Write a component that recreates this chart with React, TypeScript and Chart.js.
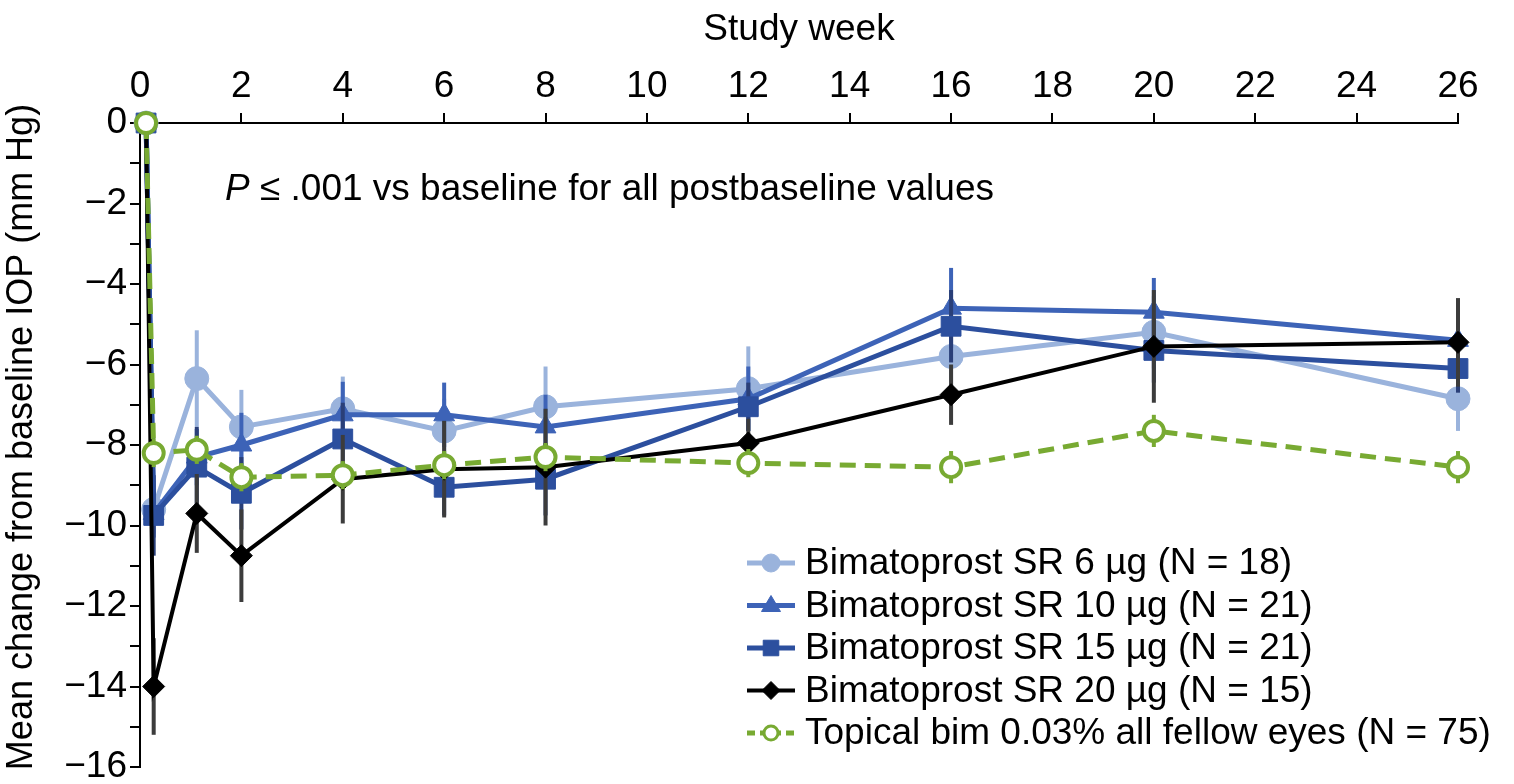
import React, { useEffect, useRef } from 'react';
import { Chart, registerables } from 'chart.js';

Chart.register(...registerables);

const FONT = '"Liberation Sans", Arial, Helvetica, sans-serif';

// Study weeks at which values were plotted (baseline, day 2, week 1, 2, 4, ...)
const weeks = [0.12, 0.27, 1.12, 2, 4, 6, 8, 12, 16, 20, 26];

const seriesLabels = [
  'Bimatoprost SR 6 µg (N = 18)',
  'Bimatoprost SR 10 µg (N = 21)',
  'Bimatoprost SR 15 µg (N = 21)',
  'Bimatoprost SR 20 µg (N = 15)',
  'Topical bim 0.03% all fellow eyes (N = 75)',
];

const sr6 = [0, -9.6, -6.35, -7.55, -7.1, -7.65, -7.05, -6.6, -5.8, -5.2, -6.85];
const sr6Err = [null, 0.6, 1.2, 0.92, 0.8, 0.8, 1.0, 1.05, 0.9, 0.9, 0.8];

const sr10 = [0, -9.7, -8.3, -8.0, -7.25, -7.25, -7.55, -6.85, -4.6, -4.7, -5.4];
const sr10Err = [null, 0.6, 0.7, 0.8, 0.82, 0.8, 0.8, 0.8, 1.0, 0.85, 0.8];

const sr15 = [0, -9.75, -8.55, -9.2, -7.85, -9.05, -8.85, -7.05, -5.05, -5.65, -6.1];
const sr15Err = [null, 1.0, 1.0, 0.9, 0.9, 0.7, 0.9, 0.6, 0.9, 0.8, 0.6];

const sr20 = [0, -14.0, -9.7, -10.75, -8.85, -8.6, -8.55, -7.95, -6.75, -5.55, -5.45];
const sr20Err = [null, 1.2, 0.98, 1.15, 1.1, 1.2, 1.45, 0.6, 0.75, 1.4, 1.1];

const topical = [0, -8.2, -8.12, -8.8, -8.75, -8.5, -8.3, -8.45, -8.55, -7.65, -8.55];
const topicalErr = [null, 0.35, 0.35, 0.35, 0.35, 0.35, 0.35, 0.35, 0.4, 0.4, 0.4];

const xTickValues = [0, 2, 4, 6, 8, 10, 12, 14, 16, 18, 20, 22, 24, 26];
const yMajorTicks = [0, -2, -4, -6, -8, -10, -12, -14, -16];

const annotationItalic = 'P';
const annotationRest = ' ≤ .001 vs baseline for all postbaseline values';
const xTitle = 'Study week';
const yTitle = 'Mean change from baseline IOP (mm Hg)';

const values = [sr6, sr10, sr15, sr20, topical];
const errors = [sr6Err, sr10Err, sr15Err, sr20Err, topicalErr];

const styles = [
  { color: '#9ab3dc', err: '#9ab3dc', point: 'circle', radius: 12, fill: '#9ab3dc', width: 5, dash: [] as number[], order: 4, lr: 9 },
  { color: '#3d63b7', err: '#3d63b7', point: 'triangle', radius: 12, fill: '#3d63b7', width: 5, dash: [], order: 3, lr: 10 },
  { color: '#2c4f9e', err: '#2a3f78', point: 'rect', radius: 14, fill: '#2c4f9e', width: 5, dash: [], order: 2, lr: 11 },
  { color: '#000000', err: '#3c3c3c', point: 'rectRot', radius: 11, fill: '#000000', width: 4, dash: [], order: 1, lr: 9 },
  { color: '#78aa32', err: '#78aa32', point: 'circle', radius: 10, fill: '#ffffff', width: 5, dash: [16, 9], order: 0, lr: 7 },
];

function drawMarker(ctx: CanvasRenderingContext2D, kind: string, x: number, y: number, r: number, fill: string, stroke: string, bw: number) {
  ctx.beginPath();
  if (kind === 'circle') {
    ctx.arc(x, y, r, 0, Math.PI * 2);
  } else if (kind === 'triangle') {
    ctx.moveTo(x, y - r);
    ctx.lineTo(x + r * 0.95, y + r * 0.6);
    ctx.lineTo(x - r * 0.95, y + r * 0.6);
    ctx.closePath();
  } else if (kind === 'rect') {
    const s = r * Math.SQRT1_2;
    ctx.rect(x - s, y - s, 2 * s, 2 * s);
  } else {
    ctx.moveTo(x - r, y);
    ctx.lineTo(x, y - r);
    ctx.lineTo(x + r, y);
    ctx.lineTo(x, y + r);
    ctx.closePath();
  }
  ctx.fillStyle = fill;
  ctx.fill();
  ctx.lineWidth = bw;
  ctx.strokeStyle = stroke;
  ctx.stroke();
}

export default function App() {
  const ref = useRef<HTMLCanvasElement | null>(null);

  useEffect(() => {
    if (!ref.current) return;

    const errorBars = {
      id: 'errorBars',
      beforeDatasetDraw(chart: any, args: any) {
        const i = args.index;
        const ctx = chart.ctx;
        const xs = chart.scales.x;
        const ys = chart.scales.y;
        ctx.save();
        ctx.strokeStyle = styles[i].err;
        ctx.lineWidth = 4;
        ctx.setLineDash([]);
        values[i].forEach((v: number, j: number) => {
          const e = errors[i][j];
          if (e == null) return;
          const x = xs.getPixelForValue(weeks[j]);
          ctx.beginPath();
          ctx.moveTo(x, ys.getPixelForValue(v + e));
          ctx.lineTo(x, ys.getPixelForValue(v - e));
          ctx.stroke();
        });
        ctx.restore();
      },
    };

    const overlay = {
      id: 'overlay',
      afterDraw(chart: any) {
        const ctx = chart.ctx;
        ctx.save();
        ctx.fillStyle = '#000';
        ctx.textBaseline = 'middle';
        ctx.textAlign = 'left';
        ctx.font = `italic 37px ${FONT}`;
        ctx.fillText(annotationItalic, 225, 190);
        const w = ctx.measureText(annotationItalic).width;
        ctx.font = `37px ${FONT}`;
        ctx.fillText(annotationRest, 225 + w, 190);

        // y-axis title
        ctx.save();
        ctx.translate(22, 437);
        ctx.rotate(-Math.PI / 2);
        ctx.textAlign = 'center';
        ctx.font = `36px ${FONT}`;
        ctx.fillText(yTitle, 0, 0);
        ctx.restore();

        // legend
        seriesLabels.forEach((label, i) => {
          const st = styles[i];
          const y = 563 + i * 42.5;
          ctx.save();
          ctx.strokeStyle = st.color;
          ctx.lineWidth = st.width;
          ctx.setLineDash(st.dash.length ? [8, 5] : []);
          ctx.beginPath();
          ctx.moveTo(747, y);
          ctx.lineTo(795, y);
          ctx.stroke();
          ctx.setLineDash([]);
          drawMarker(ctx, st.point, 771, y, st.lr, st.fill, st.color, i === 4 ? 3 : 1);
          ctx.restore();
          ctx.fillStyle = '#000';
          ctx.textAlign = 'left';
          ctx.font = `37px ${FONT}`;
          ctx.fillText(label, 805, y + 1);
        });
        ctx.restore();
      },
    };

    const datasets = seriesLabels.map((label, i) => {
      const st = styles[i];
      return {
        label,
        data: values[i].map((v, j) => ({ x: weeks[j], y: v })),
        borderColor: st.color,
        backgroundColor: st.fill,
        borderWidth: st.width,
        borderDash: st.dash,
        pointStyle: st.point,
        pointRadius: st.radius,
        pointBackgroundColor: st.fill,
        pointBorderColor: st.color,
        pointBorderWidth: i === 4 ? 4 : 1,
        tension: 0,
        fill: false,
        clip: false,
        order: st.order,
      };
    });

    const chart = new Chart(ref.current, {
      type: 'line',
      data: { datasets },
      plugins: [errorBars, overlay],
      options: {
        animation: false,
        responsive: false,
        devicePixelRatio: 1,
        layout: { padding: { left: 0, right: 56, top: 0, bottom: 17 } },
        plugins: { legend: { display: false }, tooltip: { enabled: false } },
        scales: {
          x: {
            type: 'linear',
            position: 'top',
            min: 0,
            max: 26,
            afterBuildTicks: (s: any) => {
              s.ticks = xTickValues.map((v) => ({ value: v }));
            },
            ticks: {
              autoSkip: false,
              maxRotation: 0,
              color: '#000',
              padding: 4,
              font: { family: FONT, size: 37 },
              callback: (v: any) => String(v),
            },
            grid: { drawOnChartArea: false, drawTicks: true, tickLength: 10, color: '#000', lineWidth: 2 },
            border: { display: true, color: '#000', width: 2 },
            title: { display: true, text: xTitle, color: '#000', font: { family: FONT, size: 37 }, padding: { top: 8, bottom: 0 } },
            afterFit: (s: any) => {
              s.height = 123;
              s.paddingLeft = 0;
              s.paddingRight = 0;
            },
          },
          y: {
            type: 'linear',
            min: -16,
            max: 0,
            afterBuildTicks: (s: any) => {
              const t: any[] = [];
              for (let v = 0; v >= -16; v--) t.push({ value: v });
              s.ticks = t;
            },
            ticks: {
              autoSkip: false,
              color: '#000',
              padding: 3,
              font: { family: FONT, size: 37 },
              callback: (v: any) => {
                const n = Number(v);
                if (!yMajorTicks.includes(n)) return '';
                return n === 0 ? '0' : '\u2212' + Math.abs(n);
              },
            },
            grid: { drawOnChartArea: false, drawTicks: true, tickLength: 10, color: '#000', lineWidth: 2 },
            border: { display: true, color: '#000', width: 2 },
            title: { display: false },
            afterFit: (s: any) => {
              s.width = 140;
              s.paddingTop = 0;
              s.paddingBottom = 0;
            },
          },
        },
      } as any,
    });

    return () => chart.destroy();
  }, []);

  return (
    <div style={{ position: 'absolute', left: 0, top: 0, width: 1514, height: 784, background: '#fff' }}>
      <canvas ref={ref} width={1514} height={784} />
    </div>
  );
}
